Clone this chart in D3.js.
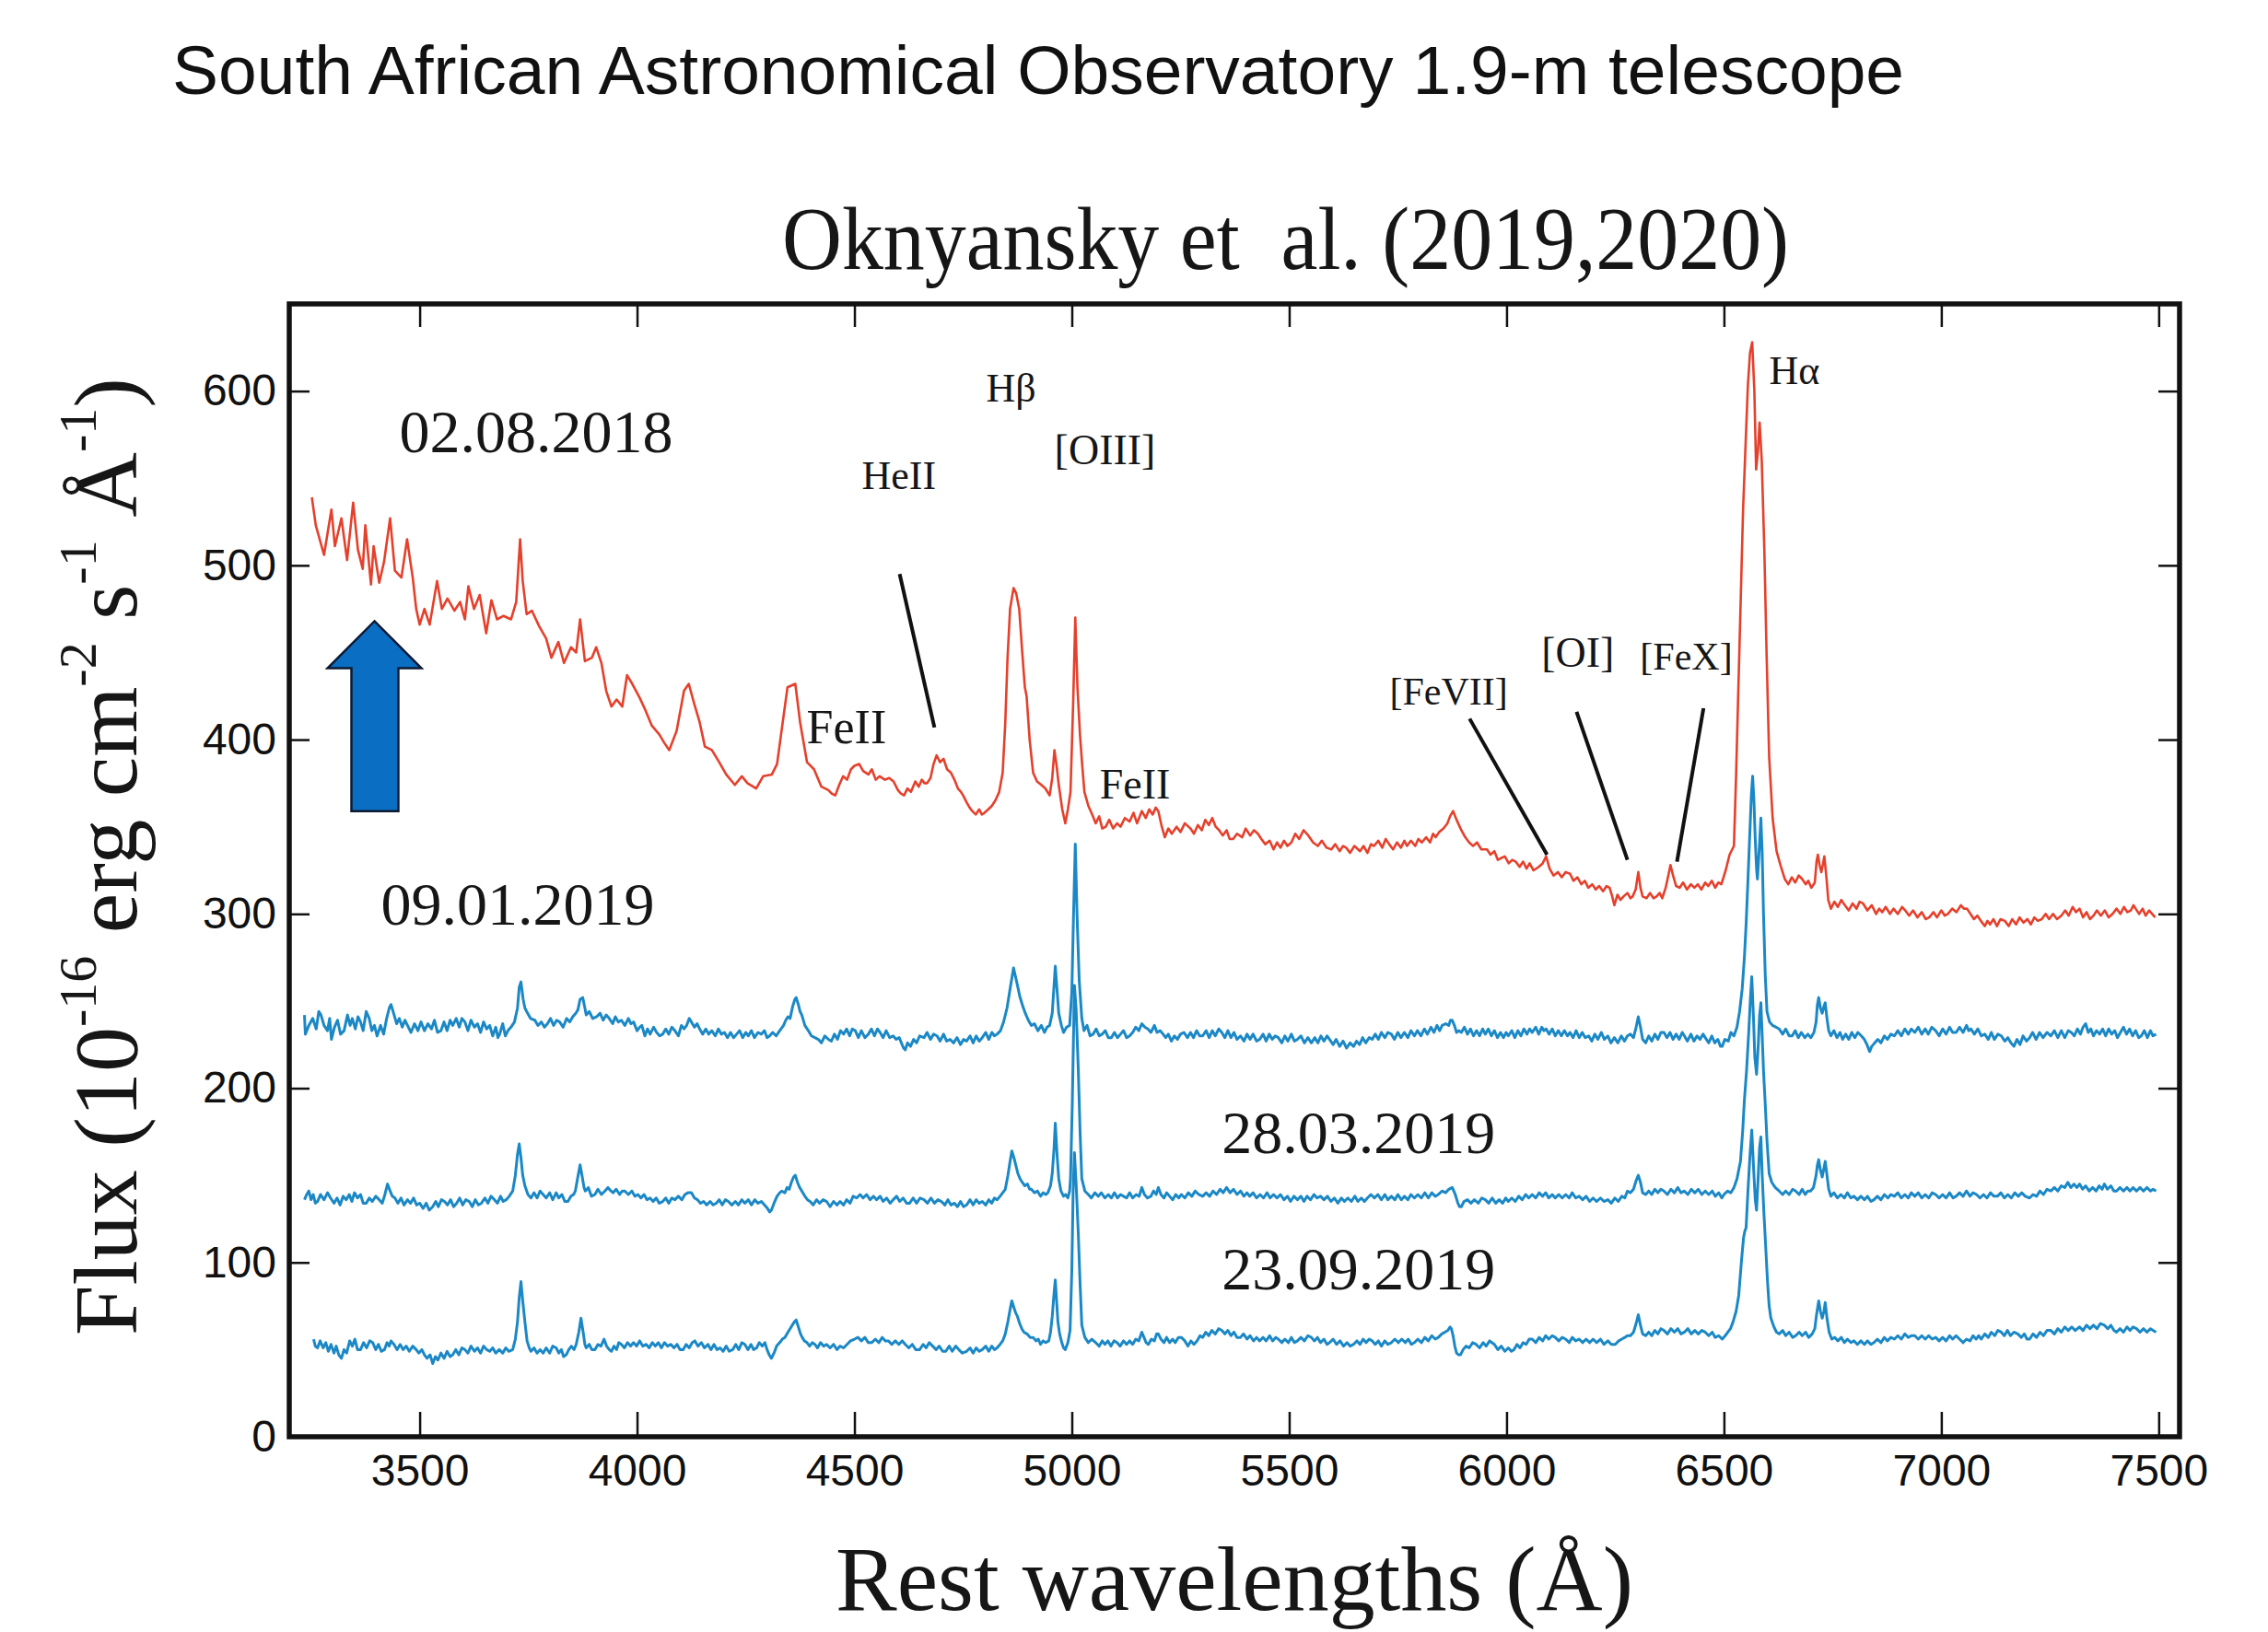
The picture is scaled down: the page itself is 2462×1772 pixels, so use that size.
<!DOCTYPE html>
<html>
<head>
<meta charset="utf-8">
<script src="https://cdn.jsdelivr.net/npm/d3@7"></script>
<style>
    body { margin: 0; background: #ffffff; }
    #chart { width: 2462px; height: 1772px; }
    .serif { font-family: "Liberation Serif", "Times New Roman", serif; fill: #161616; }
    .sans { font-family: "Liberation Sans", Arial, sans-serif; fill: #111111; }
</style>
</head>
<body>
<div id="chart"></div>
<script>

/*
DATA ([wavelength in A, flux])
*/
const spec020818 = [[3252,539],[3261,523],[3280,506],[3297,532],[3305,511],[3320,527],[3333,503],[3347,536],[3358,509],[3369,498],[3375,523],[3388,489],[3394,511],[3407,490],[3418,502],[3432,527],[3443,497],[3458,493],[3471,515],[3484,493],[3492,475],[3500,466],[3511,475],[3523,466],[3540,491],[3551,475],[3564,481],[3580,474],[3593,479],[3604,469],[3612,488],[3625,475],[3638,483],[3653,461],[3665,480],[3678,469],[3693,471],[3710,469],[3722,479],[3731,515],[3737,491],[3746,472],[3758,474],[3775,465],[3791,458],[3803,447],[3819,456],[3832,444],[3848,453],[3860,450],[3869,469],[3880,445],[3896,447],[3906,453],[3918,444],[3929,428],[3941,419],[3953,423],[3966,419],[3977,437],[3989,432],[4006,424],[4019,417],[4034,408],[4051,403],[4063,398],[4074,394],[4091,405],[4108,428],[4119,432],[4131,421],[4144,410],[4156,396],[4172,394],[4189,387],[4205,380],[4225,374],[4241,379],[4254,375],[4274,372],[4290,379],[4310,380],[4322,386],[4334,408],[4346,430],[4364,432],[4375,410],[4391,387],[4407,383],[4424,373],[4440,371],[4448,369],[4456,368],[4465,374],[4474,379],[4483,377],[4492,383],[4500,385],[4511,386],[4520,382],[4532,380],[4540,383],[4549,377],[4558,379],[4570,377],[4580,378],[4590,376],[4600,371],[4607,369],[4614,368],[4622,372],[4630,370],[4640,376],[4648,373],[4655,377],[4661,375],[4667,375],[4675,378],[4682,386],[4689,391],[4697,387],[4705,389],[4713,383],[4722,381],[4730,377],[4738,372],[4745,370],[4750,368],[4758,364],[4765,361],[4771,359],[4779,357],[4787,360],[4793,357],[4799,358],[4808,360],[4816,362],[4824,365],[4833,370],[4841,381],[4847,410],[4852,446],[4858,475],[4866,487],[4872,484],[4879,475],[4886,450],[4892,430],[4896,425],[4903,400],[4911,381],[4920,376],[4930,374],[4939,372],[4949,368],[4955,378],[4960,394],[4965,385],[4970,374],[4978,360],[4985,352],[4991,360],[4997,370],[5003,420],[5008,470],[5013,430],[5019,402],[5024,385],[5029,370],[5038,362],[5047,357],[5055,352],[5063,356],[5070,349],[5078,350],[5086,354],[5095,349],[5104,352],[5112,350],[5122,355],[5133,353],[5142,358],[5150,352],[5161,359],[5170,355],[5178,360],[5186,357],[5193,361],[5199,359],[5207,350],[5214,344],[5222,349],[5230,346],[5241,350],[5250,347],[5260,352],[5273,349],[5281,346],[5290,351],[5299,348],[5307,354],[5315,351],[5323,355],[5331,350],[5339,348],[5347,345],[5356,348],[5363,343],[5371,343],[5380,346],[5392,344],[5400,349],[5410,345],[5419,348],[5428,346],[5436,343],[5445,340],[5455,342],[5464,337],[5472,341],[5480,338],[5488,342],[5496,339],[5505,341],[5514,346],[5523,343],[5533,348],[5544,345],[5555,341],[5566,339],[5575,342],[5586,338],[5597,337],[5606,340],[5616,336],[5624,339],[5631,338],[5640,335],[5650,339],[5663,336],[5671,339],[5680,335],[5688,340],[5695,339],[5705,342],[5714,338],[5722,343],[5730,340],[5739,337],[5748,341],[5757,338],[5765,342],[5771,339],[5780,342],[5790,339],[5797,343],[5805,341],[5815,344],[5824,341],[5831,346],[5837,344],[5845,347],[5855,349],[5864,352],[5870,356],[5877,359],[5885,354],[5896,348],[5905,344],[5914,341],[5923,339],[5932,341],[5942,337],[5955,337],[5963,334],[5972,336],[5980,331],[5987,332],[5996,333],[6005,329],[6013,331],[6021,330],[6030,327],[6038,330],[6046,326],[6053,329],[6062,325],[6074,327],[6083,329],[6091,333],[6099,326],[6108,322],[6118,324],[6127,321],[6136,324],[6146,323],[6154,319],[6163,321],[6172,317],[6180,319],[6188,315],[6197,317],[6205,314],[6213,316],[6222,313],[6230,316],[6237,315],[6243,310],[6248,305],[6255,311],[6262,308],[6269,310],[6278,312],[6285,309],[6290,310],[6297,314],[6303,324],[6308,315],[6313,310],[6322,309],[6330,312],[6338,309],[6345,310],[6352,312],[6358,309],[6366,315],[6372,322],[6377,328],[6383,322],[6390,316],[6398,315],[6406,318],[6415,314],[6424,317],[6432,315],[6440,317],[6448,314],[6457,318],[6464,316],[6472,319],[6480,315],[6487,318],[6494,317],[6504,325],[6513,334],[6523,339],[6528,380],[6534,437],[6544,532],[6555,603],[6560,622],[6565,628],[6570,600],[6574,555],[6578,565],[6582,582],[6587,560],[6593,508],[6598,450],[6604,390],[6612,355],[6621,336],[6630,328],[6640,320],[6648,317],[6656,321],[6664,318],[6672,322],[6680,320],[6688,317],[6694,319],[6701,315],[6709,318],[6713,330],[6716,334],[6720,328],[6724,324],[6728,329],[6731,333],[6736,320],[6740,308],[6746,303],[6754,307],[6762,304],[6770,308],[6778,305],[6787,302],[6796,306],[6805,303],[6812,307],[6820,306],[6830,302],[6840,305],[6850,300],[6857,303],[6864,301],[6872,304],[6882,300],[6890,303],[6900,300],[6910,304],[6917,302],[6926,299],[6935,302],[6945,298],[6955,301],[6964,297],[6972,298],[6982,301],[6990,298],[7000,302],[7008,299],[7015,300],[7025,303],[7035,301],[7045,305],[7052,303],[7059,303],[7067,300],[7075,297],[7083,299],[7091,296],[7100,293],[7106,296],[7112,294],[7120,297],[7128,293],[7136,297],[7146,296],[7155,293],[7163,297],[7172,294],[7180,298],[7189,295],[7198,297],[7206,294],[7214,298],[7222,296],[7231,297],[7240,300],[7248,297],[7257,300],[7266,297],[7276,299],[7285,302],[7293,299],[7302,304],[7310,301],[7318,303],[7326,298],[7334,301],[7342,297],[7350,299],[7358,302],[7367,299],[7376,302],[7385,298],[7394,300],[7403,303],[7412,300],[7420,304],[7428,301],[7436,302],[7442,305],[7447,303],[7455,300],[7463,303],[7470,299],[7478,302],[7485,300],[7492,298]];

const spec090119 = [[3235,242],[3237,231],[3245,236],[3254,240],[3262,234],[3268,244],[3273,242],[3280,236],[3288,233],[3293,240],[3297,228],[3304,235],[3311,239],[3318,231],[3326,233],[3334,242],[3340,236],[3345,240],[3352,234],[3358,241],[3364,238],[3370,233],[3377,244],[3384,240],[3390,233],[3396,236],[3402,230],[3410,236],[3417,231],[3424,240],[3430,246],[3434,248],[3440,243],[3447,237],[3453,240],[3460,235],[3466,239],[3472,236],[3480,232],[3488,237],[3496,233],[3503,238],[3511,233],[3519,237],[3527,234],[3534,239],[3541,232],[3549,233],[3556,238],[3563,233],[3570,239],[3576,236],[3584,240],[3591,235],[3597,240],[3604,238],[3611,233],[3618,239],[3626,235],[3633,237],[3640,232],[3647,238],[3654,234],[3661,236],[3668,230],[3675,235],[3680,229],[3684,231],[3691,237],[3697,230],[3703,233],[3710,235],[3718,238],[3725,246],[3729,258],[3733,261],[3738,251],[3742,246],[3746,244],[3755,240],[3765,239],[3772,236],[3780,238],[3787,235],[3794,237],[3801,240],[3808,236],[3815,239],[3822,238],[3830,235],[3838,240],[3845,238],[3852,241],[3859,243],[3864,245],[3869,251],[3875,252],[3880,246],[3883,242],[3890,244],[3898,240],[3907,241],[3915,243],[3922,239],[3929,242],[3936,240],[3944,237],[3950,241],[3957,238],[3964,239],[3972,236],[3980,240],[3986,237],[3992,238],[4000,233],[4006,235],[4011,236],[4018,230],[4024,234],[4030,231],[4038,235],[4045,232],[4052,230],[4059,231],[4066,234],[4073,231],[4080,235],[4087,233],[4095,230],[4102,236],[4108,234],[4114,236],[4120,240],[4125,238],[4132,235],[4138,237],[4144,234],[4151,231],[4158,234],[4165,231],[4172,233],[4180,230],[4187,234],[4194,231],[4201,232],[4208,229],[4215,232],[4222,229],[4229,231],[4236,233],[4243,229],[4250,232],[4256,230],[4263,233],[4270,229],[4278,232],[4286,231],[4293,233],[4299,229],[4305,230],[4312,232],[4320,230],[4328,233],[4337,236],[4342,239],[4347,241],[4352,240],[4358,247],[4363,251],[4366,252],[4371,248],[4375,244],[4379,242],[4386,236],[4394,233],[4401,230],[4409,229],[4417,228],[4424,226],[4432,230],[4440,228],[4447,227],[4454,231],[4461,228],[4468,233],[4475,231],[4482,234],[4489,230],[4495,234],[4502,233],[4509,229],[4516,233],[4524,229],[4532,231],[4539,234],[4546,230],[4553,234],[4559,232],[4566,229],[4573,233],[4581,229],[4589,230],[4596,228],[4603,229],[4608,226],[4613,223],[4617,222],[4622,226],[4629,224],[4636,228],[4643,226],[4650,230],[4660,229],[4667,232],[4675,228],[4682,231],[4690,230],[4697,227],[4705,231],[4712,227],[4720,228],[4728,226],[4736,229],[4744,225],[4751,228],[4758,227],[4766,230],[4773,226],[4780,230],[4787,227],[4794,229],[4802,232],[4809,228],[4816,232],[4822,230],[4828,231],[4836,233],[4843,238],[4851,246],[4858,257],[4866,269],[4875,259],[4880,253],[4886,248],[4893,243],[4900,239],[4907,236],[4914,237],[4922,233],[4930,236],[4937,232],[4943,235],[4949,236],[4955,243],[4962,270],[4970,243],[4976,236],[4981,232],[4988,235],[4995,236],[5000,255],[5004,300],[5008,340],[5012,300],[5017,262],[5023,240],[5028,233],[5035,236],[5042,230],[5049,231],[5056,234],[5063,230],[5070,231],[5077,233],[5084,229],[5091,229],[5098,232],[5105,229],[5112,231],[5119,233],[5126,229],[5133,230],[5140,232],[5147,235],[5154,233],[5161,237],[5168,235],[5175,234],[5182,232],[5190,236],[5196,232],[5203,233],[5210,231],[5216,229],[5222,231],[5229,227],[5236,230],[5243,228],[5250,231],[5258,232],[5266,229],[5273,232],[5280,229],[5287,233],[5294,230],[5301,230],[5309,233],[5316,229],[5323,233],[5330,230],[5338,234],[5345,232],[5352,229],[5359,233],[5366,229],[5373,232],[5380,228],[5388,230],[5396,227],[5403,231],[5410,228],[5417,231],[5425,227],[5432,228],[5440,231],[5447,227],[5454,231],[5461,228],[5468,230],[5475,229],[5483,226],[5490,230],[5497,227],[5505,231],[5512,227],[5519,228],[5527,230],[5535,226],[5543,229],[5551,226],[5559,229],[5566,226],[5573,230],[5580,227],[5587,230],[5593,228],[5601,225],[5608,228],[5616,224],[5624,227],[5632,223],[5640,226],[5648,224],[5655,227],[5662,225],[5669,229],[5676,226],[5684,229],[5691,228],[5698,231],[5705,228],[5712,232],[5720,229],[5727,232],[5735,231],[5742,228],[5750,232],[5757,229],[5765,232],[5773,229],[5780,233],[5788,230],[5795,233],[5803,230],[5811,234],[5818,231],[5826,235],[5833,232],[5840,236],[5846,233],[5852,236],[5860,237],[5867,236],[5871,239],[5875,239],[5880,236],[5885,232],[5890,233],[5896,232],[5903,235],[5910,231],[5917,234],[5924,230],[5931,233],[5938,230],[5945,234],[5951,231],[5958,234],[5965,230],[5972,233],[5979,229],[5986,232],[5993,229],[5999,232],[6004,230],[6012,233],[6019,229],[6026,233],[6033,230],[6040,234],[6047,231],[6053,234],[6059,232],[6067,235],[6074,231],[6081,235],[6086,233],[6091,234],[6098,231],[6105,234],[6112,230],[6119,233],[6126,230],[6133,233],[6140,230],[6146,232],[6153,229],[6160,233],[6167,229],[6174,232],[6181,229],[6189,230],[6196,227],[6203,231],[6210,228],[6218,232],[6225,228],[6233,230],[6240,226],[6248,229],[6256,226],[6264,230],[6271,227],[6278,230],[6285,231],[6292,229],[6298,235],[6303,241],[6308,235],[6313,228],[6320,226],[6327,230],[6334,227],[6341,231],[6348,228],[6355,232],[6362,232],[6369,229],[6376,232],[6383,228],[6390,231],[6397,228],[6404,232],[6409,230],[6416,227],[6424,231],[6431,227],[6438,230],[6445,228],[6452,231],[6457,229],[6465,226],[6472,230],[6479,226],[6486,228],[6492,224],[6496,224],[6502,228],[6510,227],[6516,232],[6523,230],[6530,235],[6536,244],[6542,257],[6547,275],[6551,294],[6555,318],[6559,343],[6563,368],[6566,379],[6569,365],[6572,343],[6575,326],[6577,320],[6580,332],[6585,355],[6588,335],[6591,300],[6595,265],[6599,244],[6605,238],[6612,236],[6620,235],[6627,234],[6635,231],[6642,234],[6650,230],[6657,230],[6664,233],[6671,229],[6678,232],[6686,229],[6693,231],[6700,229],[6707,232],[6712,238],[6715,248],[6718,252],[6722,246],[6726,243],[6730,247],[6733,249],[6737,240],[6741,233],[6746,230],[6753,233],[6760,229],[6767,232],[6773,228],[6780,231],[6787,228],[6794,232],[6801,229],[6808,232],[6816,230],[6823,228],[6829,225],[6835,221],[6840,224],[6847,226],[6854,228],[6861,226],[6869,230],[6876,228],[6884,231],[6892,230],[6900,233],[6908,230],[6916,234],[6924,231],[6931,234],[6939,232],[6947,235],[6955,231],[6963,234],[6970,231],[6978,235],[6987,233],[6995,230],[7003,234],[7011,231],[7019,235],[7026,232],[7034,232],[7042,235],[7050,232],[7058,236],[7063,233],[7068,234],[7076,231],[7084,234],[7092,230],[7100,231],[7108,228],[7115,232],[7122,228],[7130,231],[7138,230],[7146,227],[7153,229],[7160,226],[7167,224],[7174,228],[7181,225],[7188,230],[7196,227],[7203,229],[7210,232],[7218,228],[7226,232],[7234,229],[7243,232],[7252,230],[7260,233],[7268,229],[7276,233],[7284,229],[7292,233],[7299,232],[7306,230],[7313,234],[7320,231],[7326,235],[7332,237],[7338,232],[7344,234],[7350,230],[7357,233],[7364,231],[7371,234],[7378,230],[7385,234],[7392,231],[7399,233],[7405,229],[7412,232],[7419,235],[7426,231],[7433,234],[7440,230],[7447,233],[7454,229],[7460,230],[7467,233],[7474,229],[7481,233],[7487,230],[7494,231]];

const spec280319 = [[3235,136],[3240,139],[3245,141],[3250,136],[3255,139],[3260,134],[3265,135],[3272,139],[3280,136],[3288,140],[3295,137],[3303,134],[3310,137],[3317,133],[3324,138],[3331,136],[3338,139],[3344,135],[3350,140],[3357,137],[3364,139],[3370,134],[3377,134],[3384,137],[3391,135],[3399,138],[3407,136],[3414,134],[3420,139],[3426,145],[3432,141],[3437,138],[3443,137],[3450,134],[3457,137],[3464,133],[3472,136],[3479,134],[3486,137],[3493,133],[3500,134],[3508,131],[3515,134],[3522,130],[3530,132],[3537,135],[3543,132],[3550,136],[3557,135],[3564,133],[3571,136],[3578,132],[3585,134],[3592,137],[3599,133],[3606,136],[3614,135],[3621,132],[3628,136],[3635,133],[3642,134],[3650,137],[3657,134],[3664,138],[3672,136],[3679,134],[3686,138],[3692,135],[3699,136],[3706,138],[3714,141],[3720,150],[3725,162],[3729,168],[3733,160],[3737,150],[3742,144],[3749,139],[3756,137],[3763,140],[3770,137],[3777,141],[3784,139],[3791,137],[3799,140],[3806,136],[3814,140],[3820,137],[3827,139],[3834,135],[3841,135],[3848,138],[3854,139],[3858,141],[3863,148],[3869,156],[3874,149],[3878,143],[3881,141],[3888,143],[3895,138],[3903,139],[3910,142],[3918,139],[3926,141],[3933,143],[3940,141],[3945,140],[3952,142],[3960,139],[3966,141],[3972,141],[3980,139],[3988,141],[3995,138],[4002,139],[4009,137],[4016,139],[4023,136],[4030,137],[4037,135],[4044,137],[4051,134],[4059,135],[4066,137],[4073,134],[4080,137],[4087,136],[4095,138],[4103,136],[4110,139],[4117,140],[4125,140],[4132,137],[4139,136],[4146,134],[4153,135],[4160,133],[4168,135],[4175,133],[4182,134],[4189,136],[4196,133],[4203,136],[4210,135],[4218,133],[4226,135],[4233,133],[4241,136],[4248,134],[4256,136],[4263,133],[4271,136],[4278,134],[4286,135],[4293,133],[4300,131],[4305,129],[4309,130],[4315,134],[4322,138],[4328,140],[4333,141],[4340,140],[4345,143],[4350,142],[4355,146],[4360,149],[4364,150],[4369,146],[4374,143],[4379,141],[4386,138],[4392,136],[4398,135],[4405,133],[4413,136],[4420,134],[4428,136],[4436,135],[4444,132],[4452,135],[4460,133],[4467,135],[4475,133],[4482,136],[4490,134],[4497,138],[4505,137],[4513,139],[4520,137],[4528,139],[4536,136],[4544,138],[4551,136],[4559,138],[4566,135],[4574,137],[4582,134],[4589,136],[4597,138],[4604,135],[4612,137],[4620,134],[4627,134],[4635,137],[4643,134],[4651,137],[4660,136],[4668,134],[4676,137],[4684,134],[4692,136],[4700,135],[4708,133],[4715,136],[4722,133],[4730,134],[4737,132],[4744,135],[4751,132],[4758,133],[4766,136],[4773,133],[4780,136],[4787,134],[4794,135],[4802,133],[4809,136],[4816,134],[4822,137],[4828,136],[4835,138],[4841,140],[4847,142],[4853,150],[4858,158],[4862,164],[4867,160],[4871,156],[4876,151],[4881,148],[4886,146],[4892,144],[4898,145],[4903,142],[4907,142],[4914,140],[4921,141],[4928,138],[4934,140],[4940,139],[4945,140],[4951,144],[4955,151],[4959,165],[4962,180],[4966,162],[4970,148],[4975,141],[4981,138],[4986,139],[4991,137],[4995,141],[4997,148],[5001,190],[5006,259],[5010,245],[5015,210],[5019,175],[5023,148],[5030,141],[5038,139],[5045,137],[5053,140],[5061,138],[5068,140],[5076,137],[5084,139],[5091,137],[5098,140],[5105,137],[5112,139],[5119,138],[5126,137],[5133,140],[5140,137],[5148,139],[5155,138],[5161,143],[5167,139],[5174,137],[5182,138],[5188,141],[5194,139],[5199,143],[5205,139],[5212,137],[5218,140],[5225,138],[5232,136],[5239,139],[5246,137],[5252,139],[5260,137],[5268,140],[5276,138],[5284,141],[5292,139],[5301,138],[5309,140],[5317,138],[5325,141],[5333,139],[5341,142],[5348,140],[5356,143],[5364,140],[5372,142],[5380,139],[5388,141],[5396,138],[5403,140],[5409,138],[5417,140],[5425,137],[5433,139],[5441,137],[5449,140],[5456,137],[5464,139],[5472,137],[5480,139],[5488,136],[5496,138],[5503,135],[5511,138],[5519,136],[5527,138],[5534,135],[5541,138],[5549,136],[5557,139],[5564,137],[5572,138],[5580,136],[5588,138],[5596,135],[5604,137],[5612,134],[5620,137],[5627,135],[5635,137],[5643,135],[5651,138],[5658,135],[5666,137],[5673,135],[5680,137],[5688,139],[5696,137],[5704,139],[5712,136],[5720,139],[5727,136],[5735,138],[5743,136],[5750,139],[5758,136],[5765,138],[5773,136],[5780,139],[5788,137],[5796,139],[5804,137],[5812,140],[5820,137],[5828,140],[5836,138],[5843,139],[5852,141],[5860,140],[5867,142],[5875,143],[5882,139],[5888,134],[5892,132],[5896,132],[5902,135],[5910,136],[5918,134],[5926,136],[5935,134],[5943,137],[5951,136],[5959,134],[5967,137],[5975,134],[5983,136],[5991,134],[5998,137],[6004,135],[6012,137],[6020,135],[6028,138],[6036,136],[6044,139],[6051,137],[6059,139],[6067,137],[6075,140],[6083,138],[6090,140],[6097,137],[6105,139],[6112,137],[6120,139],[6128,137],[6136,139],[6144,137],[6151,140],[6159,137],[6167,138],[6175,136],[6183,138],[6191,135],[6199,137],[6207,135],[6216,137],[6224,135],[6233,136],[6241,134],[6249,137],[6257,135],[6265,138],[6272,137],[6278,141],[6285,140],[6292,142],[6298,147],[6303,150],[6308,146],[6313,140],[6320,139],[6327,141],[6334,139],[6341,142],[6348,140],[6355,142],[6362,141],[6370,139],[6378,142],[6386,140],[6394,143],[6401,140],[6409,141],[6417,139],[6425,142],[6433,140],[6441,142],[6449,139],[6457,141],[6465,139],[6473,141],[6480,138],[6488,140],[6495,137],[6500,139],[6508,141],[6516,140],[6523,143],[6530,148],[6538,158],[6543,175],[6547,193],[6552,210],[6557,232],[6561,252],[6564,264],[6568,240],[6571,218],[6575,208],[6579,225],[6582,242],[6585,249],[6588,230],[6591,210],[6595,191],[6599,170],[6604,151],[6610,146],[6618,143],[6627,141],[6635,139],[6642,141],[6650,139],[6658,142],[6665,141],[6673,139],[6680,142],[6687,139],[6693,141],[6699,141],[6706,143],[6712,150],[6715,156],[6718,159],[6722,153],[6726,149],[6730,154],[6733,158],[6737,150],[6741,142],[6746,138],[6753,140],[6761,137],[6769,139],[6777,137],[6784,140],[6792,137],[6799,138],[6807,136],[6815,138],[6823,136],[6830,138],[6838,135],[6845,136],[6853,138],[6861,136],[6869,139],[6877,137],[6884,139],[6892,138],[6900,140],[6908,137],[6916,139],[6924,137],[6931,140],[6939,138],[6947,140],[6955,137],[6963,139],[6971,137],[6979,140],[6987,139],[6995,137],[7003,139],[7011,137],[7019,140],[7027,137],[7034,138],[7042,140],[7050,138],[7058,141],[7066,138],[7073,140],[7081,139],[7089,137],[7097,139],[7105,137],[7113,140],[7121,138],[7129,138],[7137,140],[7145,137],[7153,139],[7161,137],[7169,140],[7177,138],[7185,140],[7193,138],[7203,137],[7211,139],[7219,138],[7227,141],[7235,139],[7243,142],[7252,141],[7260,143],[7268,141],[7276,144],[7284,143],[7291,146],[7298,143],[7305,145],[7312,143],[7318,145],[7325,142],[7332,144],[7340,141],[7348,143],[7356,141],[7363,144],[7370,142],[7375,145],[7382,142],[7390,144],[7397,141],[7403,141],[7411,143],[7419,141],[7427,143],[7434,141],[7441,143],[7449,141],[7457,143],[7465,141],[7473,143],[7481,141],[7487,142],[7494,141]];

const spec230919 = [[3256,56],[3260,52],[3265,51],[3271,55],[3278,51],[3284,54],[3290,49],[3296,53],[3303,48],[3308,52],[3314,47],[3320,45],[3326,50],[3332,48],[3339,55],[3345,52],[3351,56],[3357,50],[3364,50],[3371,54],[3378,51],[3385,55],[3392,54],[3399,50],[3405,53],[3412,49],[3419,50],[3425,54],[3430,52],[3434,55],[3441,53],[3448,50],[3455,53],[3462,50],[3469,52],[3476,49],[3484,52],[3492,50],[3498,48],[3505,50],[3511,47],[3517,45],[3524,47],[3530,42],[3536,46],[3542,44],[3549,48],[3556,45],[3563,49],[3570,46],[3576,47],[3583,50],[3590,47],[3597,51],[3604,50],[3611,48],[3618,52],[3626,49],[3633,51],[3640,48],[3647,52],[3654,50],[3661,49],[3668,51],[3675,48],[3683,50],[3691,48],[3698,51],[3705,49],[3714,50],[3720,56],[3725,66],[3729,80],[3733,89],[3737,78],[3742,66],[3747,55],[3752,51],[3756,49],[3763,51],[3770,48],[3777,50],[3784,48],[3791,51],[3799,48],[3806,52],[3814,51],[3820,48],[3826,50],[3831,46],[3837,47],[3843,50],[3849,52],[3855,50],[3860,53],[3866,60],[3871,68],[3876,60],[3880,53],[3883,51],[3890,53],[3896,50],[3903,50],[3910,53],[3917,52],[3924,56],[3930,52],[3936,50],[3941,49],[3947,52],[3953,50],[3958,54],[3964,53],[3971,51],[3978,54],[3985,52],[3992,54],[3999,52],[4006,55],[4013,52],[4021,53],[4028,51],[4035,54],[4042,52],[4049,54],[4056,51],[4063,54],[4070,52],[4078,53],[4085,51],[4092,53],[4099,50],[4106,50],[4113,53],[4120,51],[4127,54],[4133,55],[4140,52],[4148,54],[4155,51],[4163,53],[4170,50],[4177,53],[4184,50],[4191,51],[4198,49],[4205,52],[4212,49],[4220,50],[4227,53],[4234,50],[4241,54],[4248,53],[4255,50],[4262,53],[4268,50],[4275,51],[4281,54],[4288,52],[4294,54],[4299,50],[4304,47],[4309,45],[4315,48],[4321,52],[4328,54],[4334,56],[4340,57],[4347,60],[4352,62],[4357,64],[4362,66],[4366,67],[4371,63],[4376,59],[4380,57],[4385,55],[4391,54],[4397,52],[4403,54],[4409,53],[4415,51],[4422,54],[4429,52],[4436,53],[4444,51],[4452,53],[4460,50],[4467,52],[4475,51],[4483,53],[4491,55],[4500,56],[4508,57],[4516,55],[4524,57],[4532,54],[4540,54],[4548,56],[4556,54],[4564,57],[4571,55],[4578,55],[4586,53],[4594,55],[4602,53],[4610,55],[4617,53],[4625,51],[4633,53],[4641,50],[4650,50],[4658,53],[4665,51],[4672,54],[4680,52],[4688,50],[4695,52],[4703,49],[4710,49],[4718,52],[4725,49],[4733,52],[4740,50],[4748,48],[4758,49],[4766,51],[4773,48],[4780,51],[4787,49],[4794,50],[4802,52],[4809,49],[4816,52],[4822,50],[4828,51],[4835,53],[4841,55],[4847,59],[4853,66],[4858,73],[4862,78],[4867,74],[4871,71],[4875,69],[4880,65],[4885,62],[4890,60],[4897,59],[4904,57],[4911,57],[4918,55],[4923,56],[4928,53],[4934,55],[4940,54],[4947,55],[4951,60],[4955,69],[4959,82],[4962,90],[4965,78],[4968,66],[4972,59],[4977,54],[4981,51],[4985,50],[4991,54],[4996,61],[5000,95],[5003,140],[5006,163],[5010,145],[5015,116],[5019,88],[5023,64],[5030,57],[5038,54],[5046,56],[5055,54],[5063,52],[5070,55],[5076,53],[5083,55],[5090,52],[5097,55],[5104,54],[5111,52],[5119,55],[5126,53],[5133,55],[5140,53],[5147,56],[5154,55],[5161,60],[5166,57],[5171,54],[5176,53],[5183,56],[5190,55],[5195,59],[5199,59],[5205,56],[5212,54],[5218,57],[5225,54],[5232,56],[5238,54],[5245,57],[5252,57],[5260,55],[5267,52],[5274,55],[5281,53],[5288,55],[5295,58],[5301,57],[5308,60],[5315,58],[5322,61],[5330,59],[5338,62],[5345,61],[5352,59],[5359,61],[5366,58],[5373,60],[5380,57],[5388,57],[5395,59],[5403,56],[5410,58],[5418,55],[5425,57],[5432,55],[5440,57],[5447,55],[5455,58],[5462,55],[5469,57],[5475,56],[5483,54],[5490,56],[5498,54],[5505,57],[5512,54],[5519,55],[5527,57],[5535,55],[5543,58],[5551,57],[5558,55],[5565,57],[5572,54],[5580,56],[5587,53],[5593,54],[5601,56],[5609,53],[5617,55],[5625,52],[5633,54],[5640,52],[5648,53],[5656,55],[5663,53],[5670,56],[5677,54],[5684,56],[5691,55],[5698,53],[5705,55],[5712,52],[5720,55],[5727,53],[5735,54],[5743,56],[5751,54],[5759,56],[5767,54],[5774,56],[5781,53],[5788,54],[5796,56],[5804,54],[5812,57],[5820,55],[5828,58],[5836,56],[5843,57],[5851,59],[5858,60],[5865,61],[5870,63],[5873,62],[5877,58],[5881,52],[5885,48],[5890,47],[5894,47],[5900,50],[5907,52],[5914,51],[5922,54],[5930,53],[5938,51],[5946,54],[5953,52],[5961,55],[5972,53],[5980,50],[5988,52],[5996,49],[6004,51],[6011,49],[6017,50],[6024,53],[6031,51],[6038,54],[6045,53],[6052,56],[6059,56],[6067,54],[6075,57],[6083,55],[6090,58],[6097,56],[6105,58],[6112,57],[6120,55],[6128,57],[6136,56],[6144,54],[6151,57],[6159,55],[6167,56],[6175,54],[6183,56],[6191,54],[6199,56],[6207,54],[6216,56],[6224,53],[6233,55],[6241,53],[6250,53],[6258,55],[6265,56],[6272,57],[6278,58],[6285,58],[6292,60],[6298,65],[6303,70],[6308,64],[6313,59],[6320,58],[6327,60],[6334,58],[6341,61],[6348,59],[6355,62],[6362,61],[6370,59],[6378,62],[6386,60],[6394,62],[6401,59],[6409,60],[6417,62],[6425,59],[6433,61],[6441,59],[6449,61],[6457,60],[6465,58],[6473,60],[6480,57],[6488,58],[6496,56],[6503,58],[6509,60],[6515,62],[6521,66],[6528,72],[6534,81],[6540,100],[6545,114],[6548,118],[6551,120],[6555,140],[6560,162],[6564,176],[6568,155],[6572,136],[6575,130],[6579,150],[6582,166],[6585,172],[6588,150],[6592,128],[6595,114],[6600,90],[6604,75],[6608,68],[6615,63],[6621,60],[6627,59],[6635,61],[6642,58],[6650,60],[6658,57],[6665,58],[6673,60],[6680,58],[6688,60],[6695,57],[6703,59],[6709,62],[6713,70],[6718,78],[6722,72],[6726,68],[6730,72],[6733,77],[6737,68],[6742,60],[6748,56],[6755,57],[6762,55],[6770,57],[6777,54],[6784,56],[6792,54],[6799,55],[6807,53],[6815,55],[6823,53],[6830,55],[6838,53],[6845,54],[6853,56],[6861,54],[6869,57],[6876,55],[6884,57],[6892,56],[6900,58],[6908,56],[6916,59],[6924,57],[6931,58],[6939,58],[6947,56],[6955,58],[6963,56],[6971,58],[6979,56],[6987,57],[6995,55],[7003,57],[7011,55],[7019,58],[7026,56],[7034,58],[7042,56],[7050,54],[7058,56],[7066,55],[7073,58],[7080,56],[7086,58],[7092,56],[7100,59],[7108,57],[7115,60],[7123,58],[7130,61],[7138,60],[7145,58],[7152,61],[7159,58],[7167,60],[7176,59],[7184,57],[7191,59],[7197,56],[7203,56],[7211,59],[7219,57],[7227,60],[7235,58],[7243,61],[7252,61],[7260,59],[7268,62],[7276,60],[7284,63],[7292,61],[7300,63],[7308,61],[7318,63],[7326,61],[7334,64],[7342,62],[7350,64],[7358,62],[7366,65],[7375,64],[7383,62],[7390,64],[7397,61],[7403,60],[7411,62],[7419,60],[7427,63],[7434,61],[7441,63],[7449,62],[7457,60],[7465,62],[7473,60],[7481,62],[7487,61],[7494,60]];

const xTicks = [3500, 4000, 4500, 5000, 5500, 6000, 6500, 7000, 7500];
const yTicks = [0, 100, 200, 300, 400, 500, 600];

// date labels: text, wavelength and flux of the left baseline point
const dateLabels = [
    {text: "02.08.2018", wave: 3453, flux: 565},
    {text: "09.01.2019", wave: 3411, flux: 294},
    {text: "28.03.2019", wave: 5345, flux: 163},
    {text: "23.09.2019", wave: 5345, flux: 84.5}
];

const lineLabels = [
    {text: "HeII", wave: 4517, flux: 544, size: 44},
    {text: "H\u03B2", wave: 4803, flux: 594, size: 44},
    {text: "[OIII]", wave: 4960, flux: 558, size: 46},
    {text: "FeII", wave: 4390, flux: 398, size: 52},
    {text: "FeII", wave: 5064, flux: 366, size: 46},
    {text: "[FeVII]", wave: 5731, flux: 420, size: 42},
    {text: "[OI]", wave: 6080, flux: 442, size: 46},
    {text: "[FeX]", wave: 6307, flux: 440, size: 42},
    {text: "H\u03B1", wave: 6604, flux: 604, size: 44}
];

// pointer lines [wave1, flux1, wave2, flux2]
const pointers = [
    [4604, 495, 4684, 407],
    [5915, 412, 6093, 334],
    [6161, 416, 6278, 331],
    [6453, 418, 6392, 330]
];

/*
SVG CANVAS
*/
const width = 2462;
const height = 1772;
const plot = {left: 314, right: 2366, top: 330, bottom: 1560};

const svg = d3.select("#chart")
    .append("svg")
    .attr("width", width)
    .attr("height", height)
    .attr("viewBox", `0 0 ${width} ${height}`);

svg.append("rect")
    .attr("width", width)
    .attr("height", height)
    .attr("fill", "#ffffff");

/*
SCALES
*/
const xScale = d3.scaleLinear()
    .domain([3200, 7548])
    .range([plot.left, plot.right]);

const yScale = d3.scaleLinear()
    .domain([0, 650])
    .range([plot.bottom, plot.top]);

const line = d3.line()
    .x(d => xScale(d[0]))
    .y(d => yScale(d[1]));

/*
SPECTRA
*/
const series = [
    {data: spec020818, color: "#e5402c", w: 2.6},
    {data: spec090119, color: "#1b88c6", w: 3},
    {data: spec280319, color: "#1b88c6", w: 3},
    {data: spec230919, color: "#1b88c6", w: 3}
];

svg.selectAll(".spec")
    .data(series)
    .enter()
    .append("path")
        .attr("class", "spec")
        .attr("d", d => line(d.data))
        .attr("fill", "none")
        .attr("stroke", d => d.color)
        .attr("stroke-width", d => d.w)
        .attr("stroke-linejoin", "round");

/*
AXES (ticks point inward on all four sides)
*/
function styleAxis(g) {
    g.select(".domain").remove();
    g.selectAll(".tick line").attr("stroke", "#111").attr("stroke-width", 2.5);
    g.selectAll(".tick text")
        .attr("class", "sans")
        .style("font-size", "48px")
        .attr("fill", "#111");
}

svg.append("g")
    .attr("transform", `translate(0,${plot.bottom})`)
    .call(d3.axisBottom(xScale).tickValues(xTicks).tickSizeInner(-27).tickSizeOuter(0).tickPadding(19).tickFormat(d3.format("d")))
    .call(styleAxis);

svg.append("g")
    .attr("transform", `translate(0,${plot.top})`)
    .call(d3.axisTop(xScale).tickValues(xTicks).tickSizeInner(-25).tickSizeOuter(0).tickFormat(""))
    .call(styleAxis);

svg.append("g")
    .attr("transform", `translate(${plot.left},0)`)
    .call(d3.axisLeft(yScale).tickValues(yTicks).tickSizeInner(-22).tickSizeOuter(0).tickPadding(14).tickFormat(d3.format("d")))
    .call(styleAxis);

svg.append("g")
    .attr("transform", `translate(${plot.right},0)`)
    .call(d3.axisRight(yScale).tickValues(yTicks.filter(d => d > 0)).tickSizeInner(-23).tickSizeOuter(0).tickFormat(""))
    .call(styleAxis);

// frame
svg.append("rect")
    .attr("x", xScale(3200))
    .attr("y", yScale(650))
    .attr("width", xScale(7548) - xScale(3200))
    .attr("height", yScale(0) - yScale(650))
    .attr("fill", "none")
    .attr("stroke", "#111")
    .attr("stroke-width", 5.5);

/*
ANNOTATIONS
*/
svg.selectAll(".pointer")
    .data(pointers)
    .enter()
    .append("line")
        .attr("class", "pointer")
        .attr("x1", d => xScale(d[0]))
        .attr("y1", d => yScale(d[1]))
        .attr("x2", d => xScale(d[2]))
        .attr("y2", d => yScale(d[3]))
        .attr("stroke", "#111")
        .attr("stroke-width", 4);

svg.selectAll(".lineLabel")
    .data(lineLabels)
    .enter()
    .append("text")
        .attr("class", "serif lineLabel")
        .attr("x", d => xScale(d.wave))
        .attr("y", d => yScale(d.flux))
        .style("font-size", d => d.size + "px")
        .text(d => d.text);

svg.selectAll(".dateLabel")
    .data(dateLabels)
    .enter()
    .append("text")
        .attr("class", "serif dateLabel")
        .attr("x", d => xScale(d.wave))
        .attr("y", d => yScale(d.flux))
        .style("font-size", "66px")
        .text(d => d.text);

// blue arrow pointing up at the UV rise
const arrow = [
    [3396, 468], [3504, 441], [3451, 441], [3451, 359],
    [3343, 359], [3343, 441], [3288, 441]
];
svg.append("polygon")
    .attr("points", arrow.map(p => [xScale(p[0]), yScale(p[1])].join(",")).join(" "))
    .attr("fill", "#0a6ec2")
    .attr("stroke", "#0d1a33")
    .attr("stroke-width", 2.5);

/*
TITLES AND AXIS LABELS
*/
svg.append("text")
    .attr("class", "sans")
    .attr("x", 187)
    .attr("y", 102)
    .style("font-size", "75px")
    .text("South African Astronomical Observatory 1.9-m telescope");

svg.append("text")
    .attr("class", "serif")
    .attr("x", 849)
    .attr("y", 292)
    .attr("textLength", 1093)
    .attr("lengthAdjust", "spacingAndGlyphs")
    .style("font-size", "97px")
    .style("white-space", "pre")
    .text("Oknyansky et  al. (2019,2020)");

svg.append("text")
    .attr("class", "serif")
    .attr("x", 907)
    .attr("y", 1748)
    .attr("textLength", 866)
    .attr("lengthAdjust", "spacingAndGlyphs")
    .style("font-size", "100px")
    .text("Rest wavelengths (\u00C5)");

const yLabelParts = [
    ["Flux (10", false], ["-16", true], [" erg cm", false], ["-2", true],
    [" s", false], ["-1", true], [" \u00C5", false], ["-1", true], [")", false]
];
const yLabel = svg.append("text")
    .attr("class", "serif")
    .attr("transform", "translate(148,930) rotate(-90)")
    .attr("text-anchor", "middle")
    .style("font-size", "98px")
    .style("white-space", "pre");

let raised = false;
yLabelParts.forEach(function(p) {
    let shift = 0;
    if (p[1] && !raised) { shift = -44; raised = true; }
    else if (!p[1] && raised) { shift = 44; raised = false; }
    yLabel.append("tspan")
        .attr("dy", shift)
        .style("font-size", p[1] ? "58px" : "98px")
        .text(p[0]);
});

</script>
</body>
</html>
